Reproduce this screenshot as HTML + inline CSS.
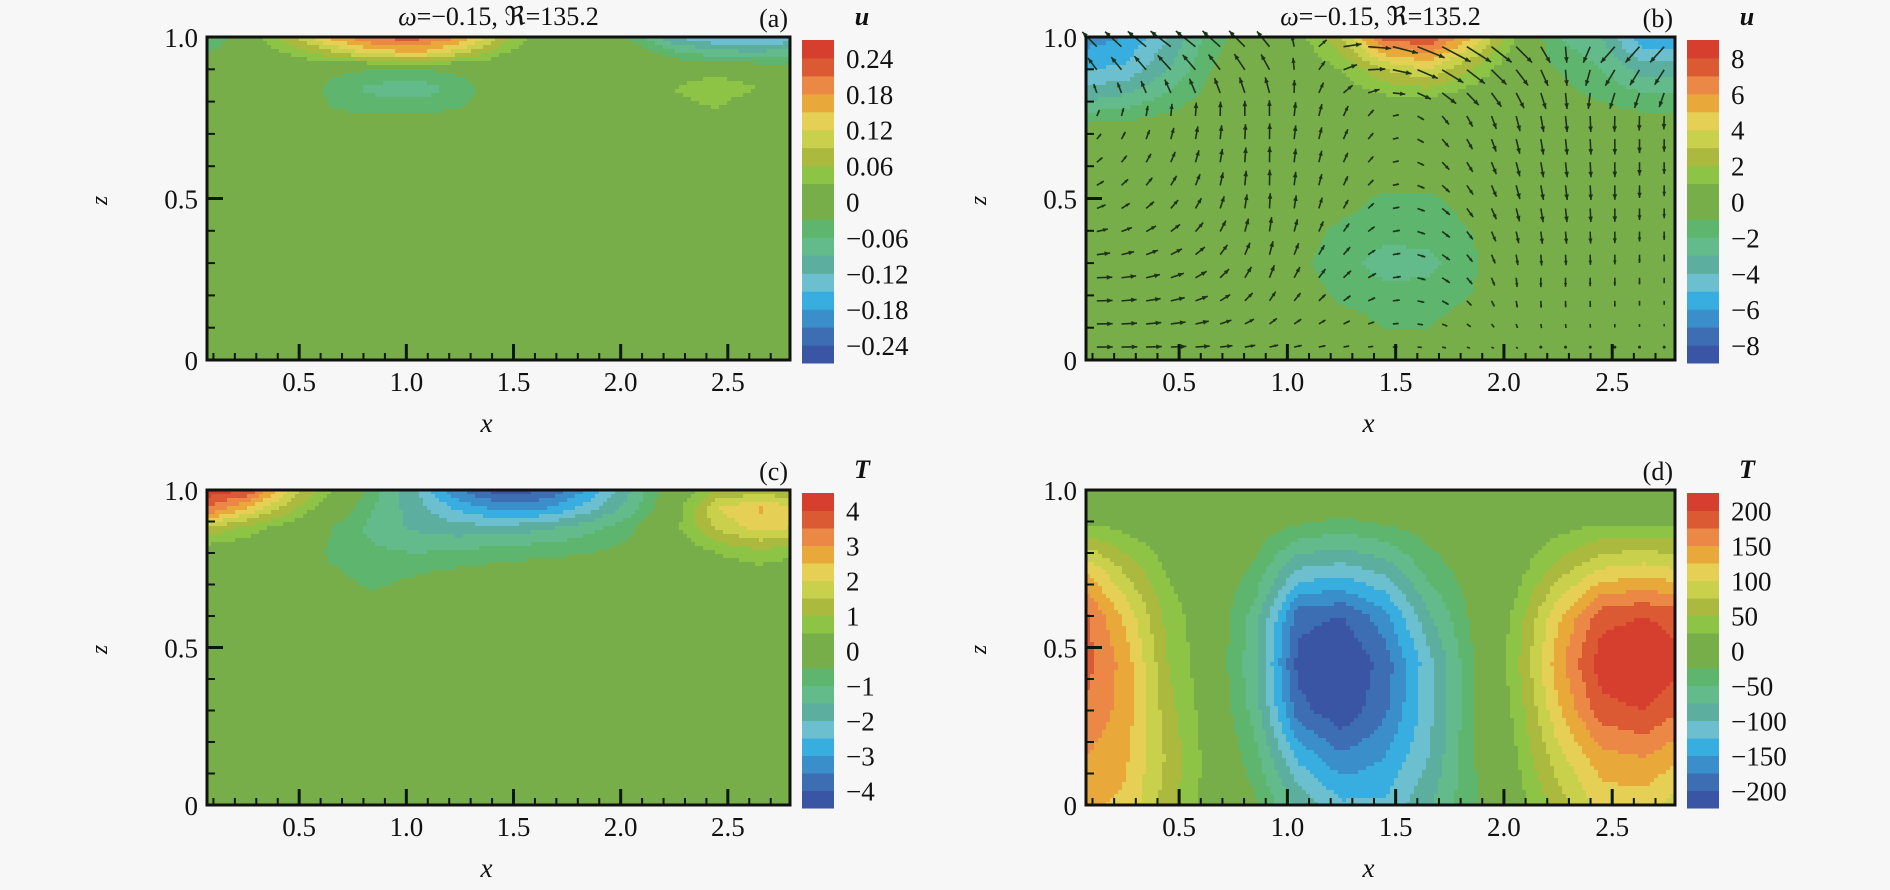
<!DOCTYPE html>
<html><head><meta charset="utf-8">
<style>
html,body{margin:0;padding:0;background:#f7f7f7;}
svg{display:block;font-family:"Liberation Serif","DejaVu Serif",serif;}
</style></head>
<body>
<svg id="fig" width="1890" height="890" viewBox="0 0 1890 890" xmlns="http://www.w3.org/2000/svg"></svg>
<script>
// ---------- data ----------
const xCols = [0.07,0.25,0.45,0.65,0.85,1.05,1.25,1.45,1.65,1.85,2.05,2.25,2.45,2.65,2.79];

// panel (a) u
const aZ = [0,0.7,0.78,0.84,0.9,0.95,1.0];
const aU = [
 [0,0,0,0,0,0,0,0,0,0,0,0,0,0,0],
 [0,0,0,0,0,0,0,0,0,0,0,0,0,0,0],
 [0,0,0,-0.03,-0.04,-0.04,-0.03,0,0,0,0,0.02,0.03,0,0],
 [0,0,0,-0.04,-0.07,-0.08,-0.05,0,0,0,0,0.03,0.05,0.03,0],
 [0,0,0,-0.02,-0.03,-0.03,-0.02,0,0,0,0,0.01,0.02,0,0],
 [-0.03,0,0.03,0.08,0.13,0.15,0.1,0.03,0,0,0,-0.05,-0.08,-0.08,-0.08],
 [-0.06,0,0.08,0.16,0.22,0.22,0.18,0.08,0,0,-0.04,-0.12,-0.15,-0.16,-0.14]
];
const aTicks = ["0.24","0.18","0.12","0.06","0","\u22120.06","\u22120.12","\u22120.18","\u22120.24"];
const aTickVals = [0.24,0.18,0.12,0.06,0,-0.06,-0.12,-0.18,-0.24];

// panel (b) u
const bZ = [0,0.1,0.2,0.3,0.4,0.5,0.6,0.7,0.8,0.9,1.0];
const bU = [
 [0,0,0,0,0,0,0,0,0,0,0,0,0,0,0],
 [0,0,0,0,0,0,-0.5,-1,-1,-0.5,0,0,0,0,0],
 [0,0,0,0,0,-0.5,-1.2,-1.5,-1.5,-1,0,0,0,0,0],
 [0,0,0,0,0,-0.8,-1.5,-2.6,-2.4,-1.2,0,0,0,0,0],
 [0,0,0,0,0,-0.6,-1.2,-1.5,-1.5,-1,0,0,0,0,0],
 [0,0,0,0,0,-0.3,-0.6,-1.2,-1.2,-0.6,0,0,0,0,0],
 [0,0,0,0,0,0,0,0,-0.3,0,0,0,0,0,0],
 [0,0,0,0,0,0,0,0,0,0,0,0,0,0,0],
 [-3,-2.5,-1.5,-0.5,0,0,0,0.5,0.5,0,0,-0.5,-1,-1.5,-1.5],
 [-5,-4.8,-3,-1,0,0,1,3,4,2,0,-1,-2,-3.5,-3.5],
 [-6.5,-6,-4,-1.5,0,0.5,3,7.5,8,5,1,-2,-3,-6,-6]
];
const bTicks = ["8","6","4","2","0","\u22122","\u22124","\u22126","\u22128"];
const bTickVals = [8,6,4,2,0,-2,-4,-6,-8];
// velocity vectors (b)
const vX = [0.07,0.5,0.9,1.3,1.7,2.1,2.5,2.79];
const vZ = [0,0.25,0.5,0.75,1];
const velX = [
 [1,1,0.6,0.3,0.2,0.1,0,0],
 [1,0.8,0.3,0.5,0.5,0,0,0],
 [0.5,0.4,0,0.3,0.5,0.2,0,0],
 [0.2,0.1,0,0.3,0.4,0.2,0,0],
 [-1,-1.5,-1,1.5,2,1,-1,-1]
];
const velZ = [
 [0,0,0,0,0,0,0,0],
 [0,0.3,0.8,0.4,-0.3,-0.6,-0.5,-0.3],
 [0.2,0.6,1,0.5,-0.4,-0.9,-0.9,-0.6],
 [0.3,0.8,1,0.6,-0.5,-1,-1,-0.8],
 [1,1,1,0,-1,-1,-1,-1]
];

// panel (c) T
const cZ = [0,0.6,0.7,0.8,0.88,0.94,1.0];
const cT = [
 [0,0,0,0,0,0,0,0,0,0,0,0,0,0,0],
 [0,0,0,0,0,0,0,0,0,0,0,0,0,0,0],
 [0,0,0,-0.3,-0.6,-0.3,0,0,0,0,0,0,0,0,0],
 [0,0,0,-0.6,-0.9,-1,-0.9,-0.7,-0.6,-0.5,-0.3,0,0.5,0.8,0.6],
 [1.5,0.8,0.2,-0.5,-1.2,-1.6,-1.8,-1.8,-1.6,-1.2,-0.6,0.3,1.6,2.2,2],
 [3.5,2.5,1.2,0,-1,-1.8,-2.6,-3.2,-3,-2.2,-1.2,0.2,2,2.6,2.2],
 [4.3,4,2,0.5,-0.8,-2,-3.5,-4.3,-4,-3,-1.5,0,1,1.2,1]
];
const cTicks = ["4","3","2","1","0","\u22121","\u22122","\u22123","\u22124"];
const cTickVals = [4,3,2,1,0,-1,-2,-3,-4];

// panel (d) T
const dZ = [0,0.15,0.3,0.45,0.6,0.75,0.9,1.0];
const dT = [
 [130,120,60,10,-20,-80,-120,-120,-80,-30,10,60,110,110,90],
 [150,130,70,10,-40,-130,-170,-150,-100,-30,20,90,140,150,130],
 [170,140,60,5,-60,-190,-220,-180,-110,-30,30,120,190,200,180],
 [185,140,50,0,-70,-210,-230,-190,-110,-30,40,140,215,230,210],
 [180,120,40,0,-60,-190,-200,-160,-80,-20,30,120,190,200,190],
 [120,70,20,0,-30,-100,-110,-90,-40,-10,10,60,100,110,100],
 [20,10,0,0,-5,-20,-30,-20,-10,0,0,10,20,20,20],
 [0,0,0,0,0,0,0,0,0,0,0,0,0,0,0]
];
const dTicks = ["200","150","100","50","0","\u221250","\u2212100","\u2212150","\u2212200"];
const dTickVals = [200,150,100,50,0,-50,-100,-150,-200];

const xTickVals = [0.5,1.0,1.5,2.0,2.5];
const xTickLabels = ["0.5","1.0","1.5","2.0","2.5"];
const zTickVals = [0,0.5,1.0];
const zTickLabels = ["0","0.5","1.0"];

// ---------- rendering ----------
const PAL = ['#3a55a3','#3d6db3','#3a8fca','#38aee0','#6cbfce','#5cae9f','#63ba8b','#5db56e','#78ae4a','#78ae4a','#8ec445','#acb93f','#c9d04c','#e6cf55','#e9a83a','#eb8846','#dc5a33','#d63f2e'];
const NS = 'http://www.w3.org/2000/svg';
const fig = document.getElementById('fig');
function mk(tag, attrs, parent){
  const e = document.createElementNS(NS, tag);
  for (const k in attrs) e.setAttribute(k, attrs[k]);
  (parent||fig).appendChild(e);
  return e;
}
function findIdx(arr, v){
  let i = 0;
  while (i < arr.length-2 && v > arr[i+1]) i++;
  return i;
}
function sample(grid, xs, zs, x, z){
  const i = findIdx(xs, x), j = findIdx(zs, z);
  let tx = (x - xs[i])/(xs[i+1]-xs[i]); tx = Math.max(0, Math.min(1, tx));
  let tz = (z - zs[j])/(zs[j+1]-zs[j]); tz = Math.max(0, Math.min(1, tz));
  const a = grid[j][i], b = grid[j][i+1], c = grid[j+1][i], d = grid[j+1][i+1];
  return (a*(1-tx)+b*tx)*(1-tz) + (c*(1-tx)+d*tx)*tz;
}
function band(v, max){
  const step = 2*max/18;
  let k = Math.floor((v + max)/step);
  return Math.max(0, Math.min(17, k));
}

function panel(cfg){
  const {L,T,R,B} = cfg;
  const g = mk('g', {});
  
  
  const sx = x => L + (x - 0.07)/(2.79 - 0.07)*(R - L);
  const sz = z => B - z*(B - T);
  // heatmap
  const hm = mk('g', {}, g);
  
  
  const cell = 4;
  for (let py = T; py < B; py += cell){
    const h = Math.min(cell, B - py);
    const z = (B - (py + h/2))/(B - T);
    let runStart = L, runK = -1;
    for (let px = L; ; px += cell){
      const end = px >= R;
      let k = -2;
      if (!end){
        const x = 0.07 + ((px + cell/2) - L)/(R - L)*2.72;
        k = band(sample(cfg.grid, xCols, cfg.zs, x, z), cfg.max);
      }
      if (k !== runK){
        if (runK >= 0){
          const r = mk('rect', {x: runStart, y: py, width: Math.min(px, R) - runStart + 0.6, height: h + 0.6, fill: PAL[runK]}, hm);
          
          
        }
        runStart = px; runK = k;
      }
      if (end) break;
    }
  }
  // vectors
  if (cfg.vectors){
    const vg = mk('g', {stroke: '#1d3318', 'stroke-width': 1.6, fill: '#1d3318'}, g);
    
    
    const nc = 24, nr = 14;
    for (let r = 0; r < nr; r++){
      for (let c = 0; c < nc; c++){
        const x = 0.12 + c*(2.62/(nc-1));
        const z = 0.04 + r*(0.93/(nr-1));
        const ux = sample(velX, vX, vZ, x, z), uz = sample(velZ, vX, vZ, x, z);
        const px = sx(x), pz = sz(z);
        const s = 16;
        const ex = px + ux*s, ey = pz - uz*s;
        const ln = Math.hypot(ex-px, ey-pz);
        const a = mk('g', {}, vg);
        
        
        if (ln < 2){ mk('circle', {cx: px, cy: pz, r: 1.5, stroke: 'none'}, a); continue; }
        mk('line', {x1: px, y1: pz, x2: ex, y2: ey}, a);
        const ang = Math.atan2(ey-pz, ex-px), hl = Math.min(6, ln*0.45);
        const p1 = [ex - hl*Math.cos(ang-0.4), ey - hl*Math.sin(ang-0.4)];
        const p2 = [ex - hl*Math.cos(ang+0.4), ey - hl*Math.sin(ang+0.4)];
        mk('polygon', {points: `${ex},${ey} ${p1} ${p2}`, stroke: 'none'}, a);
      }
    }
  }
  // ticks
  const tg = mk('g', {stroke: '#0a1a08', 'stroke-width': 2}, g);
  
  
  for (let i = 1; i <= 27; i++){
    const x = i/10; if (x < 0.07 || x > 2.79) continue;
    const major = Math.abs(x*2 - Math.round(x*2)) < 1e-6;
    mk('line', {x1: sx(x), y1: B, x2: sx(x), y2: B - (major ? 16 : 7), 'stroke-width': major ? 3 : 2}, tg);
  }
  for (let i = 1; i < 10; i++){
    const z = i/10, major = i === 5;
    mk('line', {x1: L, y1: sz(z), x2: L + (major ? 16 : 8), y2: sz(z), 'stroke-width': major ? 3 : 2}, tg);
  }
  // frame
  const fr = mk('rect', {x: L, y: T, width: R-L, height: B-T, fill: 'none', stroke: '#111', 'stroke-width': 3}, g);
  
  
  // tick labels
  xTickVals.forEach((v, i) => {
    const t = mk('text', {x: sx(v), y: B + 31, 'font-size': 27, 'text-anchor': 'middle', fill: '#111'}, g);
    t.textContent = xTickLabels[i];
    
    
  });
  zTickVals.forEach((v, i) => {
    const t = mk('text', {x: L - 9, y: sz(v) + 10, 'font-size': 27, 'text-anchor': 'end', fill: '#111'}, g);
    t.textContent = zTickLabels[i];
    
    
  });
  const xt = mk('text', {x: (L+R)/2 - 12, y: B + 72, 'font-size': 27, 'font-style': 'italic', 'text-anchor': 'middle', fill: '#111'}, g);
  xt.textContent = 'x';
  
  
  const yx = L - 100, yy = (T+B)/2 + 2;
  const zt = mk('text', {x: yx, y: yy, 'font-size': 24, 'font-style': 'italic', 'text-anchor': 'middle', fill: '#111', transform: `rotate(-90 ${yx} ${yy})`}, g);
  zt.textContent = 'z';
  
  
  if (cfg.title){
    const tt = mk('text', {x: (L+R)/2, y: T - 12, 'font-size': 26, 'text-anchor': 'middle', fill: '#111'}, g);
    tt.innerHTML = '<tspan font-style="italic">\u03C9</tspan>=\u22120.15, \u211C=135.2';
    
    
  }
  const tag = mk('text', {x: R - 2, y: T - 10, 'font-size': 26, 'text-anchor': 'end', fill: '#111'}, g);
  tag.textContent = cfg.tag;
  
  
  // colorbar
  const cb = mk('g', {}, g);
  
  
  const cL = R + 12, cW = 32, cT = T + 3, cB = B + 3;
  const bh = (cB - cT)/18;
  for (let k = 0; k < 18; k++){
    const r = mk('rect', {x: cL, y: cB - (k+1)*bh, width: cW, height: bh + 0.5, fill: PAL[k]}, cb);
    
    
  }
  const cy = v => cB - (v + cfg.max)/(2*cfg.max)*(cB - cT);
  cfg.ticks.forEach((lab, i) => {
    const t = mk('text', {x: cL + cW + 12, y: cy(cfg.tickVals[i]) + 10, 'font-size': 27, fill: '#111'}, cb);
    t.textContent = lab;
    
    
  });
  const ct = mk('text', {x: cL + cW + 28, y: T - 12, 'font-size': 26, 'font-style': 'italic', 'font-weight': 'bold', 'text-anchor': 'middle', fill: '#111'}, cb);
  ct.textContent = cfg.cbTitle;
  
  
}

panel({name:'panel-a', L:207, T:37, R:790, B:360, grid:aU, zs:aZ, max:0.27, ticks:aTicks, tickVals:aTickVals, cbTitle:'u', title:true, tag:'(a)'});
panel({name:'panel-b', L:1086, T:37, R:1675, B:360, grid:bU, zs:bZ, max:9, ticks:bTicks, tickVals:bTickVals, cbTitle:'u', title:true, tag:'(b)', vectors:true});
panel({name:'panel-c', L:207, T:490, R:790, B:805, grid:cT, zs:cZ, max:4.5, ticks:cTicks, tickVals:cTickVals, cbTitle:'T', title:false, tag:'(c)'});
panel({name:'panel-d', L:1086, T:490, R:1675, B:805, grid:dT, zs:dZ, max:225, ticks:dTicks, tickVals:dTickVals, cbTitle:'T', title:false, tag:'(d)'});
</script>
</body></html>
